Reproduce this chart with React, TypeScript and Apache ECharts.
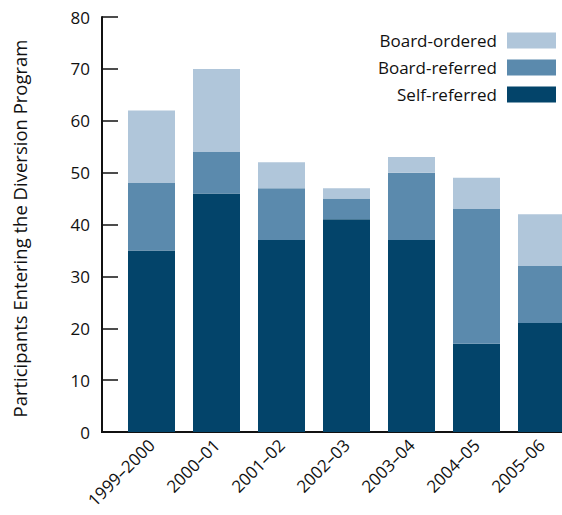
import React, { useEffect, useRef } from "react";
import * as echarts from "echarts";

const categories = ["1999–2000", "2000–01", "2001–02", "2002–03", "2003–04", "2004–05", "2005–06"];
const selfReferred = [35, 46, 37, 41, 37, 17, 21];
const boardReferred = [13, 8, 10, 4, 13, 26, 11];
const boardOrdered = [14, 16, 5, 2, 3, 6, 10];
const yTicks = { min: 0, max: 80, interval: 10 };

const FONT = "'Open Sans', 'Noto Sans', sans-serif";
const DARK = "#03446a";
const MID = "#5b8aad";
const LIGHT = "#b0c6da";

export default function App() {
  const ref = useRef<HTMLDivElement>(null);
  useEffect(() => {
    if (!ref.current) return;
    const chart = echarts.init(ref.current, undefined, { renderer: "svg" });
    chart.setOption({
      animation: false,
      textStyle: { fontFamily: FONT },
      grid: { left: 119, width: 455, top: 17, bottom: 83, containLabel: false, outerBoundsMode: "none" },
      legend: {
        orient: "vertical",
        right: 6,
        top: 32,
        padding: 0,
        align: "right",
        itemWidth: 49,
        itemHeight: 16,
        itemGap: 10,
        icon: "rect",
        data: ["Board-ordered", "Board-referred", "Self-referred"],
        textStyle: { fontFamily: FONT, fontSize: 17, lineHeight: 16, color: "#111", padding: [0, 5, 0, 0] },
      },
      graphic: [
        {
          type: "line",
          z: 0,
          shape: { x1: 101, y1: 432, x2: 562, y2: 432 },
          style: { stroke: "#111", lineWidth: 2 },
        },
      ],
      xAxis: {
        type: "category",
        data: categories,
        axisLine: { show: false },
        axisTick: { show: false },
        axisLabel: {
          rotate: 45,
          margin: 10,
          fontSize: 17,
          color: "#111",
          fontFamily: FONT,
        },
      },
      yAxis: {
        type: "value",
        min: yTicks.min,
        max: yTicks.max,
        interval: yTicks.interval,
        offset: 17,
        name: "Participants Entering the Diversion Program",
        nameLocation: "middle",
        nameGap: 73,
        nameTextStyle: { fontSize: 18.5, color: "#111", fontFamily: FONT, padding: [0, 8, 0, 0] },
        axisLine: { show: true, lineStyle: { color: "#111", width: 2 } },
        axisTick: { show: true, inside: true, length: 16, lineStyle: { color: "#111", width: 1.5 } },
        axisLabel: { fontSize: 17, color: "#111", margin: 12, fontFamily: FONT },
        splitLine: { show: false },
      },
      series: [
        { name: "Self-referred", type: "bar", stack: "total", barWidth: 47, data: selfReferred, itemStyle: { color: DARK } },
        { name: "Board-referred", type: "bar", stack: "total", barWidth: 47, data: boardReferred, itemStyle: { color: MID } },
        { name: "Board-ordered", type: "bar", stack: "total", barWidth: 47, data: boardOrdered, itemStyle: { color: LIGHT } },
      ],
    });
    return () => chart.dispose();
  }, []);
  return <div ref={ref} style={{ position: "absolute", left: 0, top: 0, width: 562, height: 515 }} />;
}
